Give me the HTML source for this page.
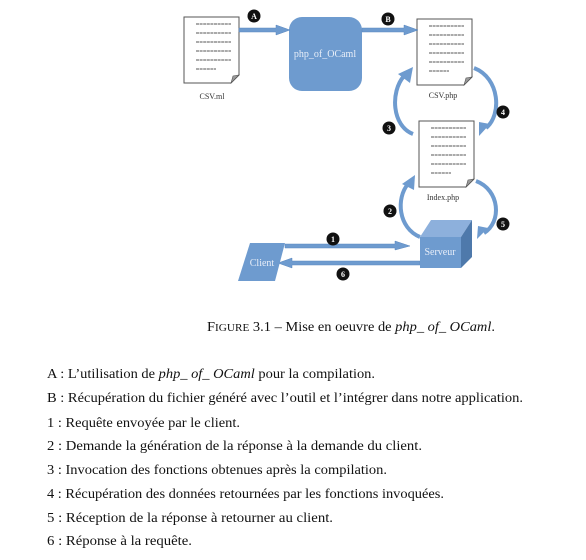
<!DOCTYPE html>
<html><head><meta charset="utf-8"><style>
html,body{margin:0;padding:0;background:#fff;width:586px;height:560px;overflow:hidden}
svg{display:block}
.t{font-family:"Liberation Serif",serif;font-size:13.5px;fill:#111}
.s{font-family:"Liberation Serif",serif;font-size:8px;fill:#333}
.w{font-family:"Liberation Serif",serif;font-size:10px;fill:#e8eef8}
.n{font-family:"Liberation Serif",serif;font-size:8px;fill:#fff;font-weight:bold;text-anchor:middle}
</style></head><body>
<svg width="586" height="560" viewBox="0 0 586 560" xmlns="http://www.w3.org/2000/svg">
<defs>
<g id="doc">
<path d="M0 0 H55 V58 L47 66 H0 Z" fill="#fff" stroke="#555" stroke-width="1"/>
<path d="M55 58 L47 66 L49 59 Z" fill="#999" stroke="#555" stroke-width="0.6"/>
<g stroke="#555" stroke-width="0.9" stroke-dasharray="3 0.6">
<line x1="12" y1="7" x2="47" y2="7"/><line x1="12" y1="16" x2="47" y2="16"/>
<line x1="12" y1="25" x2="47" y2="25"/><line x1="12" y1="34" x2="47" y2="34"/>
<line x1="12" y1="43" x2="47" y2="43"/><line x1="12" y1="52" x2="32" y2="52"/>
</g></g>
</defs>
<use href="#doc" x="184" y="17"/>
<text class="s" x="212" y="99" text-anchor="middle">CSV.ml</text>
<use href="#doc" x="417" y="19"/>
<text class="s" x="443" y="98" text-anchor="middle">CSV.php</text>
<use href="#doc" x="419" y="121"/>
<text class="s" x="443" y="200" text-anchor="middle">Index.php</text>

<rect x="289" y="17" width="73" height="74" rx="13" fill="#6e9bcf"/>
<text class="w" x="325" y="57" text-anchor="middle">php_of_OCaml</text>

<g fill="#6e9bcf" stroke="#5b88bf" stroke-width="0.5">
<path d="M239 28 H276 V25 L290 30 L276 35 V32 H239 Z"/>
<path d="M362 28 H404 V25 L418 30 L404 35 V32 H362 Z"/>
<path d="M285 244 H395 V241 L410 246 L395 250 V248 H285 Z"/>
<path d="M420 261 H292 V258 L278 263 L292 268 V265 H420 Z"/>
</g>
<g fill="none" stroke="#6e9bcf" stroke-width="4">
<path d="M413 134 C392 126 390 92 404 76"/>
<path d="M474 68 C500 78 502 115 486 128"/>
<path d="M420 237 C398 228 396 198 408 184"/>
<path d="M476 181 C500 190 502 222 484 233"/>
</g>
<g fill="#6e9bcf">
<path d="M398 74 L413 67 L410 83 Z"/>
<path d="M490 124 L479 136 L479 122 Z"/>
<path d="M402 184 L415 175 L414 190 Z"/>
<path d="M488 228 L477 239 L478 226 Z"/>
</g>
<polygon points="420,237 431,220 472,220 461,237" fill="#8db0dc"/>
<polygon points="461,237 472,220 472,257 461,268" fill="#4e79ab"/>
<rect x="420" y="237" width="41" height="31" fill="#6e9bcf"/>
<text class="w" x="440" y="255" text-anchor="middle">Serveur</text>
<polygon points="250,243 285,243 275,281 238,281" fill="#6e9bcf"/>
<text class="w" x="262" y="266" text-anchor="middle" font-size="9">Client</text>

<g fill="#111">
<circle cx="254" cy="16" r="6.5"/><circle cx="388" cy="19" r="6.5"/>
<circle cx="389" cy="128" r="6.5"/><circle cx="503" cy="112" r="6.5"/>
<circle cx="390" cy="211" r="6.5"/><circle cx="503" cy="224" r="6.5"/>
<circle cx="333" cy="239" r="6.5"/><circle cx="343" cy="274" r="6.5"/>
</g>
<text class="n" x="254" y="19">A</text><text class="n" x="388" y="22">B</text>
<text class="n" x="389" y="131">3</text><text class="n" x="503" y="115">4</text>
<text class="n" x="390" y="214">2</text><text class="n" x="503" y="227">5</text>
<text class="n" x="333" y="242">1</text><text class="n" x="343" y="277">6</text>

<text class="t" x="207" y="331" textLength="288" lengthAdjust="spacingAndGlyphs">F<tspan font-size="10.5">IGURE</tspan> 3.1 – Mise en oeuvre de <tspan font-style="italic">php_ of_ OCaml</tspan>.</text>
<text class="t" x="47" y="378" textLength="328" lengthAdjust="spacingAndGlyphs">A : L’utilisation de <tspan font-style="italic">php_ of_ OCaml</tspan> pour la compilation.</text>
<text class="t" x="47" y="402" textLength="476" lengthAdjust="spacingAndGlyphs">B : Récupération du fichier généré avec l’outil et l’intégrer dans notre application.</text>
<text class="t" x="47" y="427" textLength="193" lengthAdjust="spacingAndGlyphs">1 : Requête envoyée par le client.</text>
<text class="t" x="47" y="450" textLength="375" lengthAdjust="spacingAndGlyphs">2 : Demande la génération de la réponse à la demande du client.</text>
<text class="t" x="47" y="474" textLength="340" lengthAdjust="spacingAndGlyphs">3 : Invocation des fonctions obtenues après la compilation.</text>
<text class="t" x="47" y="498" textLength="397" lengthAdjust="spacingAndGlyphs">4 : Récupération des données retournées par les fonctions invoquées.</text>
<text class="t" x="47" y="522" textLength="286" lengthAdjust="spacingAndGlyphs">5 : Réception de la réponse à retourner au client.</text>
<text class="t" x="47" y="545" textLength="145" lengthAdjust="spacingAndGlyphs">6 : Réponse à la requête.</text>
</svg>
</body></html>
